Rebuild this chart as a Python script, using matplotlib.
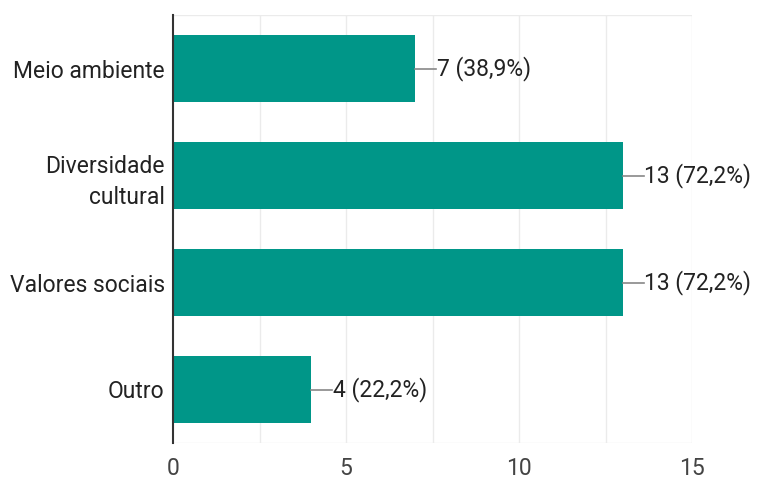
import matplotlib.pyplot as plt
import numpy as np

categories = ['Meio ambiente', 'Diversidade\ncultural', 'Valores sociais', 'Outro']
counts = [7, 13, 13, 4]
percents = ['38,9%', '72,2%', '72,2%', '22,2%']
xticks = [0, 5, 10, 15]

plt.rcParams['font.family'] = ['Roboto', 'DejaVu Sans']

fig = plt.figure(figsize=(7.57, 4.79), dpi=100)
ax = fig.add_axes([173 / 757, 1 - 443 / 479, (692 - 173) / 757, (443 - 15) / 479])

y = np.arange(len(categories))
ax.barh(y, counts, height=0.62, color='#009688', zorder=3)

ax.set_xlim(0, 15)
ax.set_ylim(3.5, -0.5)

# light grid every 2.5
for gx in np.arange(2.5, 15.01, 2.5):
    ax.axvline(gx, color='#ebebeb', lw=1.0, zorder=1)
ax.axhline(-0.5, color='#ebebeb', lw=1.0, zorder=1)
ax.axhline(3.5, color='#ebebeb', lw=1.0, zorder=1)

for s in ['top', 'right', 'bottom']:
    ax.spines[s].set_visible(False)
ax.spines['left'].set_color('#333333')
ax.spines['left'].set_linewidth(1.5)
ax.spines['left'].set_zorder(4)

ax.set_yticks(y)
ax.set_yticklabels(categories, fontsize=16.5, color='#222222', linespacing=1.45)
ax.set_xticks(xticks)
ax.set_xticklabels([str(t) for t in xticks], fontsize=16.5, color='#444444')
ax.tick_params(axis='y', length=0, pad=6)
ax.tick_params(axis='x', length=0, pad=10)

# value labels with short connector lines
for yi, c, p in zip(y, counts, percents):
    ax.plot([c, c + 0.6], [yi, yi], color='#888888', lw=1.2, zorder=3, clip_on=False)
    ax.text(c + 0.62, yi, f'{c} ({p})', va='center', ha='left',
            fontsize=16.5, color='#222222', clip_on=False)

fig.savefig('out.png', dpi=100)
